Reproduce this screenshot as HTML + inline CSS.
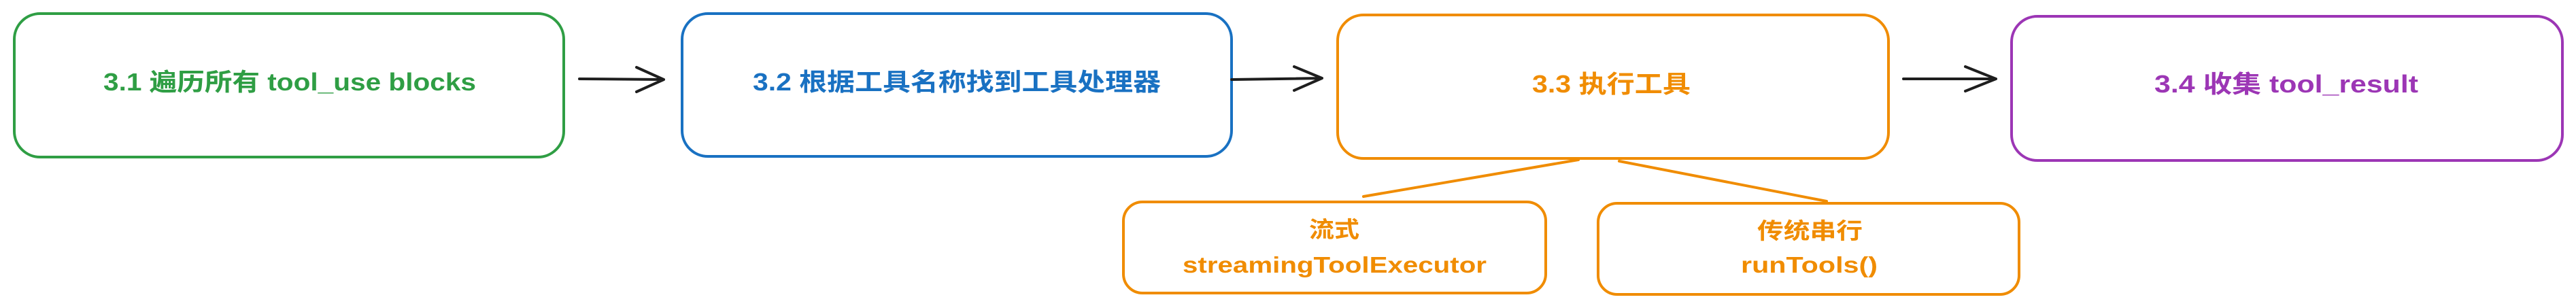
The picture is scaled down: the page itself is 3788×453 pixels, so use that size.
<!DOCTYPE html>
<html><head><meta charset="utf-8"><style>html,body{margin:0;padding:0;background:#fff}svg{display:block}</style></head>
<body>
<svg width="3788" height="453" viewBox="0 0 3788 453" xmlns="http://www.w3.org/2000/svg" font-family="'Liberation Sans','Noto Sans CJK SC',sans-serif">
<g fill="none" stroke-width="4" stroke-linecap="round" stroke-linejoin="round">
<rect x="21" y="20" width="808" height="211" rx="38" stroke="#2f9e44"/>
<rect x="1003" y="20" width="808" height="210" rx="38" stroke="#1971c2"/>
<rect x="1967" y="22" width="810" height="211" rx="38" stroke="#f08c00"/>
<rect x="2958" y="24" width="810" height="212" rx="38" stroke="#9c36b5"/>
<rect x="1652" y="297" width="621" height="134" rx="28" stroke="#f08c00"/>
<rect x="2350" y="299" width="619" height="134" rx="28" stroke="#f08c00"/>
<g stroke="#1e1e1e" stroke-width="4">
<path d="M852 116 L976 117 M936 99 L976 117 L936 135"/>
<path d="M1811 117 L1944 115 M1903 98 L1944 115 L1903 133"/>
<path d="M2799 116 L2935 116 M2890 98 L2935 116 L2890 134"/>
</g>
<g stroke="#f08c00" stroke-width="4">
<path d="M2321 235 L2005 289"/>
<path d="M2381 237 L2686 296"/>
</g>
</g>
<g font-size="36" font-weight="bold">
<text x="152" y="133" fill="#2f9e44" textLength="548" lengthAdjust="spacingAndGlyphs">3.1 遍历所有 tool_use blocks</text>
<text x="1107" y="133" fill="#1971c2" textLength="600" lengthAdjust="spacingAndGlyphs">3.2 根据工具名称找到工具处理器</text>
<text x="2253" y="136" fill="#f08c00" textLength="233" lengthAdjust="spacingAndGlyphs">3.3 执行工具</text>
<text x="3168" y="136" fill="#9c36b5" textLength="388" lengthAdjust="spacingAndGlyphs">3.4 收集 tool_result</text>
</g>
<g font-size="33" fill="#f08c00" font-weight="bold">
<text x="1925" y="349" textLength="74" lengthAdjust="spacingAndGlyphs">流式</text>
<text x="1739" y="401" textLength="447" lengthAdjust="spacingAndGlyphs">streamingToolExecutor</text>
<text x="2584" y="351" textLength="155" lengthAdjust="spacingAndGlyphs">传统串行</text>
<text x="2560" y="401" textLength="201" lengthAdjust="spacingAndGlyphs">runTools()</text>
</g>
</svg>
</body></html>
